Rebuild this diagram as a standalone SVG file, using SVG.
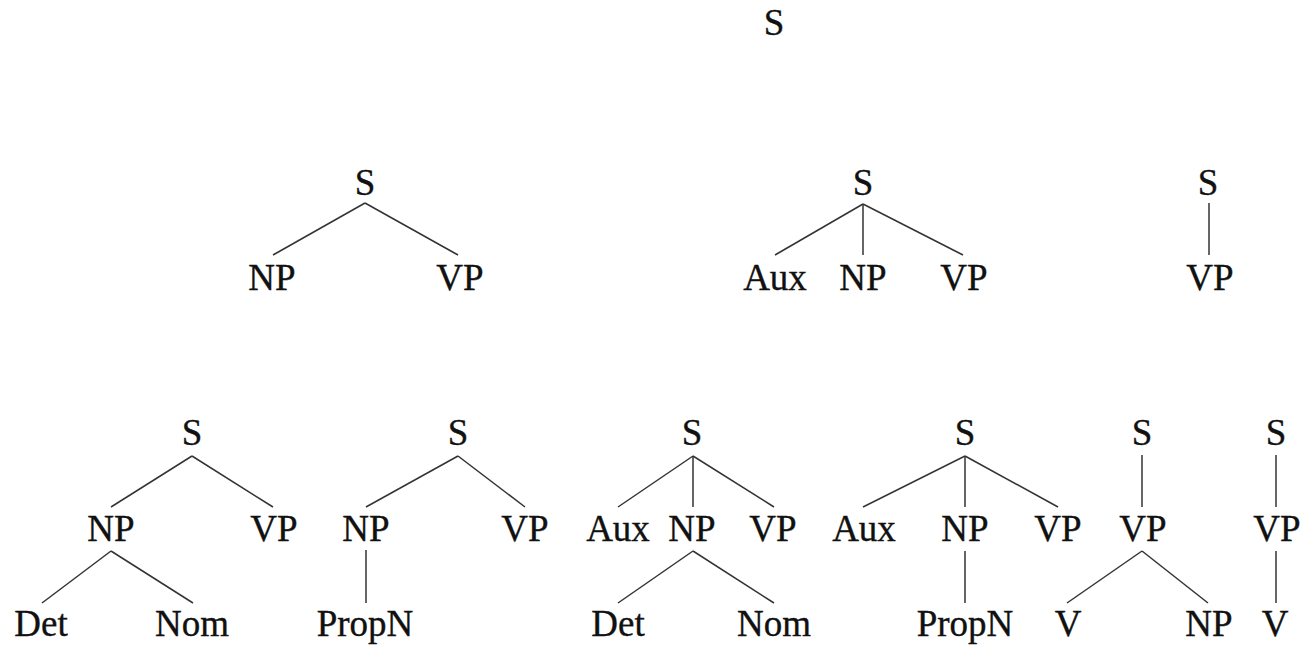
<svg xmlns="http://www.w3.org/2000/svg" width="1304" height="647" viewBox="0 0 1304 647">
<style>
text{font-family:"Liberation Serif","Times New Roman",serif;font-size:37px;fill:#111;stroke:#111;stroke-width:0.35;text-anchor:middle}
.e line{stroke:#333;stroke-width:1.5}
</style>
<rect width="1304" height="647" fill="#fff"/>
<g class="e" id="connectors">
<line x1="365" y1="203" x2="273" y2="255"/>
<line x1="365" y1="203" x2="458" y2="255"/>
<line x1="863" y1="204" x2="775" y2="255"/>
<line x1="863" y1="204" x2="863" y2="255"/>
<line x1="863" y1="204" x2="963" y2="255"/>
<line x1="1209" y1="203" x2="1209" y2="255"/>
<line x1="192" y1="456" x2="111" y2="507"/>
<line x1="192" y1="456" x2="273" y2="507"/>
<line x1="111" y1="551" x2="42" y2="603"/>
<line x1="111" y1="551" x2="193" y2="603"/>
<line x1="458" y1="456" x2="366" y2="507"/>
<line x1="458" y1="456" x2="525" y2="507"/>
<line x1="366" y1="550" x2="366" y2="603"/>
<line x1="693" y1="456" x2="618" y2="507"/>
<line x1="693" y1="456" x2="693" y2="507"/>
<line x1="693" y1="456" x2="774" y2="507"/>
<line x1="693" y1="551" x2="618" y2="603"/>
<line x1="693" y1="551" x2="774" y2="603"/>
<line x1="965" y1="456" x2="863" y2="507"/>
<line x1="965" y1="456" x2="965" y2="507"/>
<line x1="965" y1="456" x2="1058" y2="507"/>
<line x1="965" y1="551" x2="965" y2="603"/>
<line x1="1142" y1="455" x2="1142" y2="507"/>
<line x1="1142" y1="551" x2="1067" y2="603"/>
<line x1="1142" y1="551" x2="1208" y2="603"/>
<line x1="1276" y1="455" x2="1276" y2="507"/>
<line x1="1276" y1="551" x2="1276" y2="603"/>
</g>
<g id="n-top-S"><text x="774" y="35">S</text></g>
<g id="t1-S"><text x="365" y="195">S</text></g>
<g id="t1-NP"><text x="272" y="290">NP</text></g>
<g id="t1-VP"><text x="460" y="290">VP</text></g>
<g id="t2-S"><text x="863" y="195">S</text></g>
<g id="t2-Aux"><text x="775" y="290">Aux</text></g>
<g id="t2-NP"><text x="863" y="290">NP</text></g>
<g id="t2-VP"><text x="964" y="290">VP</text></g>
<g id="t3-S"><text x="1208" y="195">S</text></g>
<g id="t3-VP"><text x="1210" y="290">VP</text></g>
<g id="t4-S"><text x="192" y="445">S</text></g>
<g id="t4-NP"><text x="111" y="541">NP</text></g>
<g id="t4-VP"><text x="274" y="541">VP</text></g>
<g id="t4-Det"><text x="41" y="636">Det</text></g>
<g id="t4-Nom"><text x="192" y="636">Nom</text></g>
<g id="t5-S"><text x="458" y="445">S</text></g>
<g id="t5-NP"><text x="366" y="541">NP</text></g>
<g id="t5-VP"><text x="525" y="541">VP</text></g>
<g id="t5-PropN"><text x="365" y="636">PropN</text></g>
<g id="t6-S"><text x="692" y="445">S</text></g>
<g id="t6-Aux"><text x="618" y="541">Aux</text></g>
<g id="t6-NP"><text x="692" y="541">NP</text></g>
<g id="t6-VP"><text x="773" y="541">VP</text></g>
<g id="t6-Det"><text x="618" y="636">Det</text></g>
<g id="t6-Nom"><text x="774" y="636">Nom</text></g>
<g id="t7-S"><text x="965" y="445">S</text></g>
<g id="t7-Aux"><text x="864" y="541">Aux</text></g>
<g id="t7-NP"><text x="965" y="541">NP</text></g>
<g id="t7-VP"><text x="1058" y="541">VP</text></g>
<g id="t7-PropN"><text x="965" y="636">PropN</text></g>
<g id="t8-S"><text x="1142" y="445">S</text></g>
<g id="t8-VP"><text x="1143" y="541">VP</text></g>
<g id="t8-V"><text x="1068" y="636">V</text></g>
<g id="t8-NP"><text x="1209" y="636">NP</text></g>
<g id="t9-S"><text x="1276" y="445">S</text></g>
<g id="t9-VP"><text x="1277" y="541">VP</text></g>
<g id="t9-V"><text x="1275" y="636">V</text></g>
</svg>
